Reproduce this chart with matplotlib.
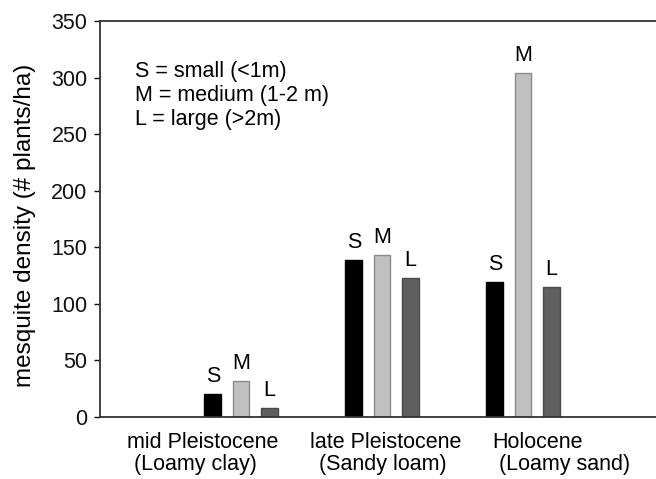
import numpy as np
import matplotlib.pyplot as plt

plt.rcParams['font.family'] = ['Liberation Sans', 'DejaVu Sans']

# data
groups = ["mid Pleistocene", "late Pleistocene", "Holocene"]
soils = ["(Loamy clay)", "(Sandy loam)", "(Loamy sand)"]
sizes = ["S", "M", "L"]
small = [20, 139, 119]
medium = [32, 143, 304]
large = [8, 123, 115]
legend_lines = ["S = small (<1m)", "M = medium (1-2 m)", "L = large (>2m)"]

fig = plt.figure(figsize=(6.56, 4.79), dpi=100)
ax = fig.add_axes([100/656, 62/479, 564/656, 396/479])

x = np.arange(1, len(groups) + 1)
w = 0.12
off = 0.2
face = ["#000000", "#c0c0c0", "#5f5f5f"]
edge = ["#000000", "#8a8a8a", "#4a4a4a"]
fs = 15.5

for k, vals in enumerate([small, medium, large]):
    pos = x + (k - 1) * off
    ax.bar(pos, vals, width=w, color=face[k], edgecolor=edge[k], linewidth=1)
    for p, v in zip(pos, vals):
        ax.annotate(sizes[k], (p, v), xytext=(0, 5), textcoords="offset points",
                    ha="center", va="bottom", fontsize=fs)

ax.set_xlim(0, 4)
ax.set_ylim(0, 350)
ax.set_yticks(np.arange(0, 351, 50))
ax.set_xticks([])
ax.tick_params(axis="y", direction="out", length=4, width=1, pad=5,
               labelsize=fs, colors="#111111")
for s in ["left", "bottom", "top"]:
    ax.spines[s].set_linewidth(1.3)
    ax.spines[s].set_color("#333333")
ax.spines["right"].set_visible(False)

ax.set_ylabel("mesquite density (# plants/ha)", fontsize=17.5)
ax.yaxis.set_label_coords(-0.113, 0.485)

# category labels under the axis, two lines each
x1 = [0.19, 1.49, 2.78]
x2 = [0.24, 1.55, 2.83]
for i in range(len(groups)):
    ax.text(x1[i], -0.065, groups[i], transform=ax.get_xaxis_transform(),
            ha="left", va="center", fontsize=fs)
    ax.text(x2[i], -0.12, soils[i], transform=ax.get_xaxis_transform(),
            ha="left", va="center", fontsize=fs)

for i, line in enumerate(legend_lines):
    ax.text(35/564, 0.872 - i * 0.061, line,
            transform=ax.transAxes, ha="left", va="center", fontsize=fs)

fig.savefig("out.png", dpi=100)
